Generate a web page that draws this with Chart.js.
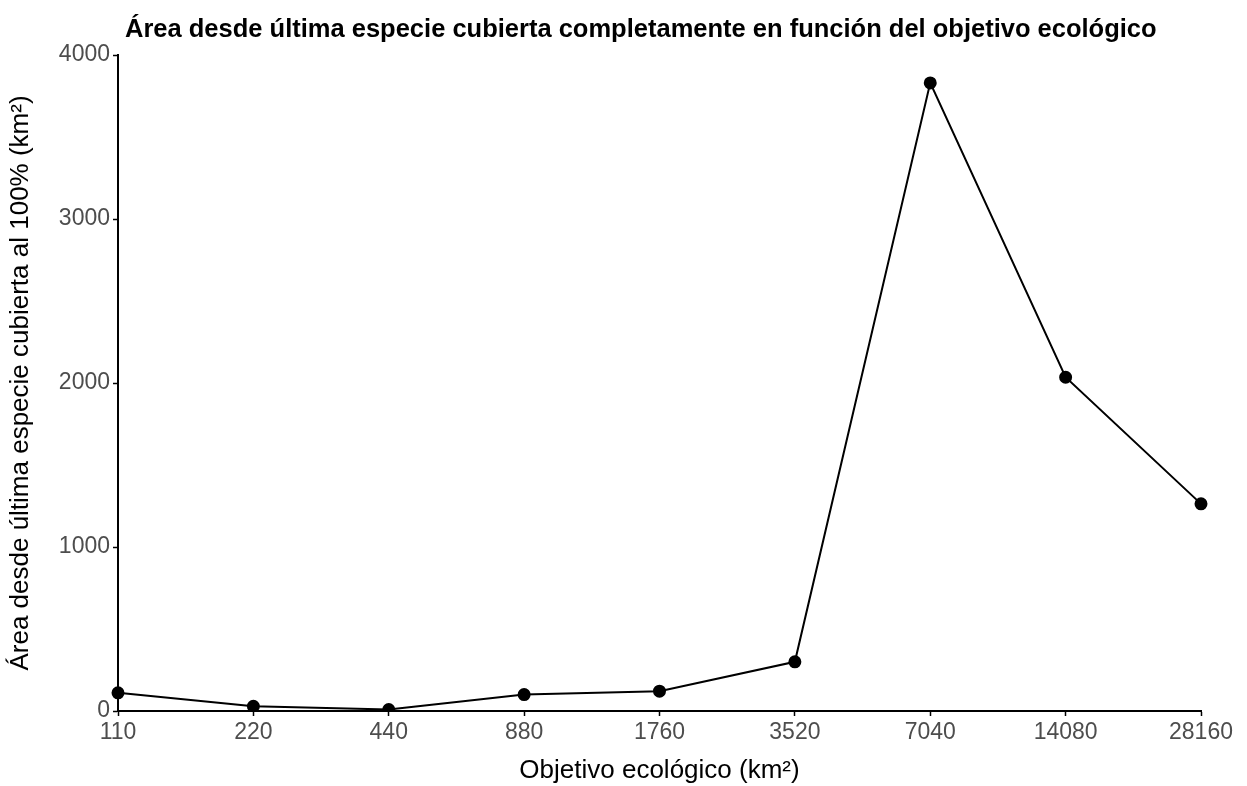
<!DOCTYPE html>
<html>
<head>
<meta charset="utf-8">
<script src="https://cdn.jsdelivr.net/npm/chart.js@4.4.1/dist/chart.umd.min.js"></script>
<style>
html,body{margin:0;padding:0;background:#fff;}
#wrap{width:1247px;height:786px;position:relative;}
</style>
</head>
<body>
<div id="wrap"><canvas id="c" width="1247" height="786"></canvas></div>
<script>
const categories = ["110","220","440","880","1760","3520","7040","14080","28160"];
const areaValues = [111, 29, 9, 100, 121, 300, 3830, 2035, 1263];
const yTicks = [0, 1000, 2000, 3000, 4000];
const chartTitle = "Área desde última especie cubierta completamente en función del objetivo ecológico";
const xTitle = "Objetivo ecológico (km²)";
const yTitle = "Área desde última especie cubierta al 100% (km²)";

const FONT = "'Liberation Sans', Arial, Helvetica, sans-serif";

const titlePlugin = {
  id: 'leftTitle',
  afterDraw(chart) {
    const ctx = chart.ctx;
    ctx.save();
    ctx.font = "bold 25.5px " + FONT;
    ctx.fillStyle = "#000";
    ctx.textBaseline = "alphabetic";
    ctx.textAlign = "left";
    ctx.fillText(chartTitle, chart.chartArea.left + 7, 37);
    ctx.restore();
  }
};

new Chart(document.getElementById('c'), {
  type: 'line',
  data: {
    labels: categories,
    datasets: [{
      data: areaValues,
      borderColor: '#000',
      backgroundColor: '#000',
      borderWidth: 2,
      pointRadius: 5.5,
      pointHoverRadius: 5.5,
      pointBackgroundColor: '#000',
      pointBorderColor: '#000',
      tension: 0
    }]
  },
  plugins: [titlePlugin],
  options: {
    responsive: false,
    animation: false,
    devicePixelRatio: 1,
    layout: { padding: { top: 55, right: 46, left: 0, bottom: 0 } },
    plugins: { legend: { display: false }, tooltip: { enabled: false }, title: { display: false } },
    scales: {
      x: {
        type: 'category',
        offset: false,
        grid: { drawOnChartArea: false, drawTicks: true, tickLength: 5, tickWidth: 1.5, tickColor: '#000' },
        border: { display: true, color: '#000', width: 2 },
        ticks: { color: '#4d4d4d', font: { family: FONT, size: 23 }, padding: 3, maxRotation: 0, autoSkip: false },
        title: { display: true, text: xTitle, color: '#000', font: { family: FONT, size: 26 }, padding: { top: 2, bottom: 0 } },
        afterFit(scale) { scale.height = 75; }
      },
      y: {
        min: 0, max: 4000,
        afterBuildTicks(scale) { scale.ticks = yTicks.map(v => ({ value: v })); },
        grid: { drawOnChartArea: false, drawTicks: true, tickLength: 5, tickWidth: 1.5, tickColor: '#000' },
        border: { display: true, color: '#000', width: 2 },
        ticks: { color: '#4d4d4d', font: { family: FONT, size: 23 }, padding: 3, callback: (v) => String(v) },
        title: { display: true, text: yTitle, color: '#000', font: { family: FONT, size: 26 }, padding: { top: 5, bottom: 4 } },
        afterFit(scale) { scale.width = 118; }
      }
    }
  }
});
</script>
</body>
</html>
